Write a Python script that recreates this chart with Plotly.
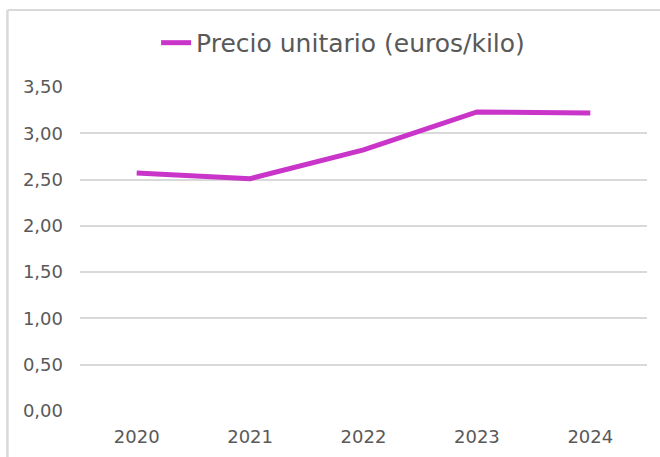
import plotly.graph_objects as go

years = ["2020", "2021", "2022", "2023", "2024"]
precio = [2.57, 2.51, 2.82, 3.23, 3.22]
series_name = "Precio unitario (euros/kilo)"
y_ticks = [0, 0.5, 1.0, 1.5, 2.0, 2.5, 3.0, 3.5]

fig = go.Figure()
fig.add_trace(go.Scatter(
    x=years, y=precio, mode="lines", name=series_name,
    line=dict(color="#C934C9", width=5),
))

font_fam = "DejaVu Sans, Noto Sans, sans-serif"
fig.update_layout(
    width=660, height=457,
    margin=dict(l=80, r=13, t=87, b=46, autoexpand=False),
    paper_bgcolor="white", plot_bgcolor="white",
    separators=",.",
    font=dict(family=font_fam, color="#595959", size=18),
    showlegend=True,
    legend=dict(orientation="h", x=0.464, xanchor="center", y=1.136, yanchor="middle",
                font=dict(size=25, color="#595959"), bgcolor="rgba(0,0,0,0)"),
    xaxis=dict(type="category", range=[-0.5, 4.5], showgrid=False, zeroline=False,
               showline=False, ticks="", ticklabelstandoff=13, automargin=False,
               tickfont=dict(size=18, color="#595959")),
    yaxis=dict(range=[0, 3.5], tickvals=y_ticks, tickformat=".2f", showgrid=True,
               gridcolor="#D9D9D9", gridwidth=1.5, zeroline=False, showline=False,
               ticks="", ticklabelstandoff=16, automargin=False,
               tickfont=dict(size=18, color="#595959")),
    shapes=[
        dict(type="line", xref="paper", yref="paper", x0=-0.128, x1=1.1, y0=1.2377, y1=1.2377,
             line=dict(color="#D9D9D9", width=2)),
        dict(type="line", xref="paper", yref="paper", x0=-0.128, x1=-0.128, y0=1.2377, y1=-0.2,
             line=dict(color="#D9D9D9", width=2.5)),
    ],
)

fig.write_html("out.html", config={"displayModeBar": False},
               post_script="document.body.style.margin='0';")
